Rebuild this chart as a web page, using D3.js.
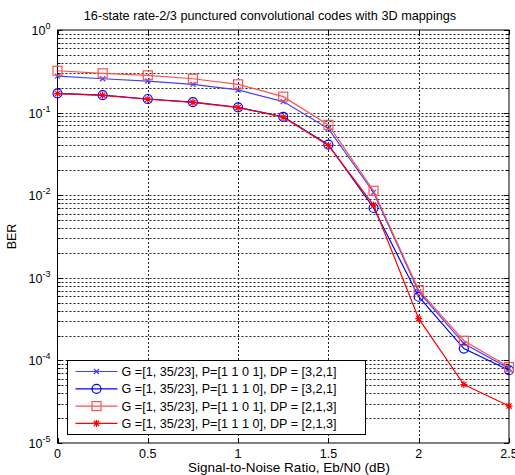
<!DOCTYPE html>
<html><head><meta charset="utf-8">
<script src="https://cdn.jsdelivr.net/npm/d3@7"></script>
<style>body{margin:0;background:#fff}svg{display:block}text{font-family:"Liberation Sans",Arial,sans-serif;fill:#000}</style>
</head><body><div id="chart"></div>
<script>
const snr = [0, 0.25, 0.5, 0.75, 1, 1.25, 1.5, 1.75, 2, 2.25, 2.5];
const berP1101DP321 = [0.277, 0.257, 0.241, 0.22, 0.188, 0.136, 0.064, 0.0108, 6.8e-4, 1.6e-4, 8.0e-5];
const berP1110DP321 = [0.171, 0.163, 0.146, 0.134, 0.116, 0.089, 0.041, 0.0070, 5.9e-4, 1.39e-4, 7.6e-5];
const berP1101DP213 = [0.321, 0.299, 0.283, 0.257, 0.22, 0.156, 0.071, 0.0113, 7.1e-4, 1.73e-4, 8.3e-5];
const berP1110DP213 = [0.170, 0.162, 0.145, 0.133, 0.115, 0.088, 0.040, 0.0076, 3.2e-4, 5.1e-5, 2.8e-5];
const seriesNames = [
  "G =[1, 35/23], P=[1 1 0 1], DP = [3,2,1]",
  "G =[1, 35/23], P=[1 1 1 0], DP = [3,2,1]",
  "G =[1, 35/23], P=[1 1 0 1], DP = [2,1,3]",
  "G =[1, 35/23], P=[1 1 1 0], DP = [2,1,3]"
];
const xTicks = [0, 0.5, 1, 1.5, 2, 2.5];
const xTickLabels = ["0", "0.5", "1", "1.5", "2", "2.5"];
const yExponents = [0, -1, -2, -3, -4, -5];
const titleText = "16-state rate-2/3 punctured convolutional codes with 3D mappings";
const xLabelText = "Signal-to-Noise Ratio, Eb/N0 (dB)";
const yLabelText = "BER";

const W = 515, H = 475;
const m = {left: 57.5, right: 509, top: 30, bottom: 443};
const svg = d3.select("#chart").append("svg").attr("width", W).attr("height", H);
const x = d3.scaleLinear().domain([0, 2.5]).range([m.left, m.right]);
const y = d3.scaleLog().domain([1e-5, 1]).range([m.bottom, m.top]);

const series = [
  {name: seriesNames[0], vals: berP1101DP321, color: "#4040ff", marker: "x"},
  {name: seriesNames[1], vals: berP1110DP321, color: "#0000ff", marker: "o"},
  {name: seriesNames[2], vals: berP1101DP213, color: "#ff5050", marker: "s"},
  {name: seriesNames[3], vals: berP1110DP213, color: "#ff0000", marker: "*"}
];

// grid
const g = svg.append("g");
const minor = [];
for (let e = -5; e < 0; e++) for (let k = 1; k <= 9; k++) minor.push(k * Math.pow(10, e));
minor.forEach(v => {
  if (v === 1e-5) return;
  g.append("line").attr("x1", m.left).attr("x2", m.right).attr("y1", Math.round(y(v)) + 0.5).attr("y2", Math.round(y(v)) + 0.5)
    .attr("stroke", "#222").attr("stroke-dasharray", "2,2").attr("stroke-width", 1);
});
xTicks.forEach(t => {
  if (t === 0 || t === 2.5) return;
  g.append("line").attr("x1", Math.round(x(t)) + 0.5).attr("x2", Math.round(x(t)) + 0.5).attr("y1", m.top).attr("y2", m.bottom)
    .attr("stroke", "#222").attr("stroke-dasharray", "2,2").attr("stroke-width", 1);
});

// ticks inside
const tk = svg.append("g").attr("stroke", "#000").attr("stroke-width", 1);
minor.concat([1]).forEach(v => {
  const yy = Math.round(y(v)) + 0.5;
  const len = (Math.abs(Math.log10(v) - Math.round(Math.log10(v))) < 1e-9) ? 5 : 3;
  tk.append("line").attr("x1", m.left).attr("x2", m.left + len).attr("y1", yy).attr("y2", yy);
  tk.append("line").attr("x1", m.right - len).attr("x2", m.right).attr("y1", yy).attr("y2", yy);
});
xTicks.forEach(t => {
  const xx = Math.round(x(t)) + 0.5;
  tk.append("line").attr("x1", xx).attr("x2", xx).attr("y1", m.bottom).attr("y2", m.bottom - 5);
  tk.append("line").attr("x1", xx).attr("x2", xx).attr("y1", m.top).attr("y2", m.top + 5);
});

// box
svg.append("rect").attr("x", m.left).attr("y", m.top).attr("width", m.right - m.left).attr("height", m.bottom - m.top)
  .attr("fill", "none").attr("stroke", "#000").attr("stroke-width", 1);

// tick labels
xTicks.forEach((t, i) => {
  svg.append("text").attr("x", x(t)).attr("y", m.bottom + 15).attr("text-anchor", "middle").attr("font-size", 12.5).text(xTickLabels[i]);
});
yExponents.forEach(e => {
  const tx = svg.append("text").attr("x", m.left - 7).attr("y", y(Math.pow(10, e)) + 5).attr("text-anchor", "end").attr("font-size", 12.5);
  tx.append("tspan").text("10");
  tx.append("tspan").attr("dy", -6).attr("font-size", 9).text(String(e));
});

// labels
svg.append("text").attr("x", 270).attr("y", 20).attr("text-anchor", "middle").attr("font-size", 12.7).text(titleText);
svg.append("text").attr("x", 289).attr("y", 472).attr("text-anchor", "middle").attr("font-size", 13.5).text(xLabelText);
svg.append("text").attr("transform", `translate(16,${(m.top + m.bottom) / 2}) rotate(-90)`).attr("text-anchor", "middle").attr("font-size", 12.5).text(yLabelText);

function drawMarker(sel, type, cx, cy, color) {
  if (type === "x") {
    const s = 2.5;
    sel.append("path").attr("d", `M${cx - s},${cy - s}L${cx + s},${cy + s}M${cx - s},${cy + s}L${cx + s},${cy - s}`).attr("stroke", color).attr("fill", "none").attr("stroke-width", 1.2);
  } else if (type === "o") {
    sel.append("circle").attr("cx", cx).attr("cy", cy).attr("r", 4.5).attr("stroke", color).attr("fill", "none").attr("stroke-width", 1.2);
  } else if (type === "s") {
    sel.append("rect").attr("x", cx - 4.5).attr("y", cy - 4.5).attr("width", 9).attr("height", 9).attr("stroke", color).attr("fill", "none").attr("stroke-width", 1.2);
  } else if (type === "*") {
    const s = 3.5, d = s * 0.75;
    sel.append("path").attr("d", `M${cx - s},${cy}L${cx + s},${cy}M${cx},${cy - s}L${cx},${cy + s}M${cx - d},${cy - d}L${cx + d},${cy + d}M${cx - d},${cy + d}L${cx + d},${cy - d}`)
      .attr("stroke", color).attr("fill", "none").attr("stroke-width", 1.2);
  }
}

const line = d3.line().x(d => x(d[0])).y(d => y(d[1]));
const plot = svg.append("g");
series.forEach(s => {
  const pts = snr.map((v, i) => [v, s.vals[i]]);
  plot.append("path").attr("d", line(pts)).attr("fill", "none").attr("stroke", s.color).attr("stroke-width", 1.2);
  pts.forEach(p => drawMarker(plot, s.marker, x(p[0]), y(p[1]), s.color));
});

// legend
const L = {x: 67.5, y: 360.5, w: 298, h: 74};
const lg = svg.append("g");
lg.append("rect").attr("x", L.x).attr("y", L.y).attr("width", L.w).attr("height", L.h).attr("fill", "#fff").attr("stroke", "#000");
series.forEach((s, i) => {
  const yy = L.y + 11 + i * 17.3;
  lg.append("line").attr("x1", L.x + 8).attr("x2", L.x + 50).attr("y1", yy).attr("y2", yy).attr("stroke", s.color).attr("stroke-width", 1.2);
  drawMarker(lg, s.marker, L.x + 29, yy, s.color);
  lg.append("text").attr("x", L.x + 54).attr("y", yy + 4.5).attr("font-size", 12.6).text(s.name);
});
</script></body></html>
